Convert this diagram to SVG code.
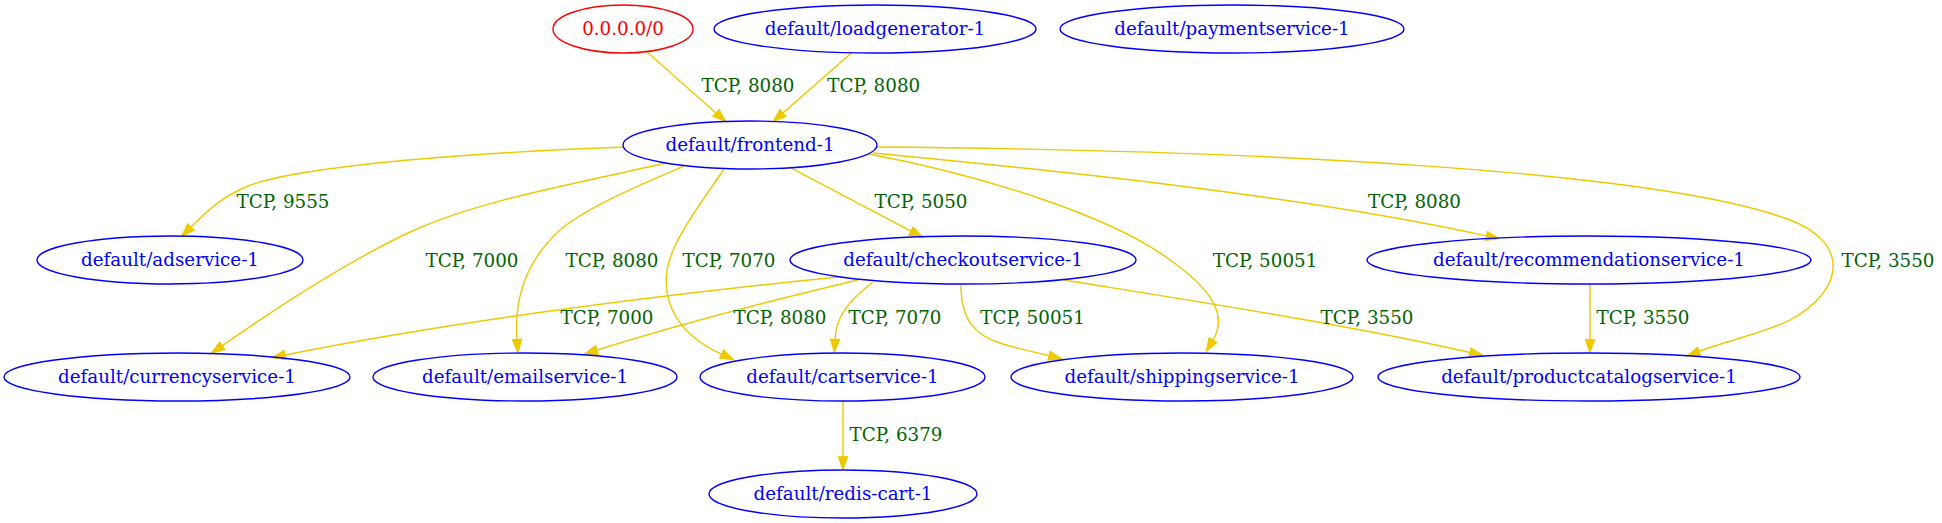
<svg xmlns="http://www.w3.org/2000/svg" width="1942" height="523" viewBox="0 0 1942 523">
<style>
text{font-family:"DejaVu Serif","Liberation Serif",serif;font-size:18.3px;text-anchor:middle}
.n ellipse{fill:none;stroke:#0000ff;stroke-width:1.4}
.n text{fill:#0000ff}
.n.ip ellipse{stroke:#ff0000}
.n.ip text{fill:#ff0000}
.e path{fill:none;stroke:#eec900;stroke-width:1.4;marker-end:url(#ah)}
.e text{fill:#006400}
</style>
<defs>
<marker id="ah" markerUnits="userSpaceOnUse" markerWidth="15" markerHeight="11" refX="0" refY="4.7" orient="auto" overflow="visible">
<path d="M0,0 L13.3,4.7 L0,9.4 z" fill="#eec900" stroke="#eec900" stroke-width="1"/>
</marker>
</defs>
<rect width="1942" height="523" fill="#ffffff"/>
<g id="edges" class="e">
<path d="M647,52 L716,112.9"/>
<text x="748" y="91.7">TCP, 8080</text>
<path d="M851.7,52.7 L783,112.9"/>
<text x="873.7" y="91.7">TCP, 8080</text>
<path d="M624,147 C520,151 310,162 248,186 C224,196 210,208 191,227"/>
<text x="283" y="208.3">TCP, 9555</text>
<path d="M666,163 C570,185 480,200 410,232 C340,265 262,318 222.3,345.6"/>
<text x="472" y="266.7">TCP, 7000</text>
<path d="M684,166 C640,185 585,208 560,230 C525,262 514,300 517,339.4"/>
<text x="612" y="266.7">TCP, 8080</text>
<path d="M724,169 C700,205 672,240 667,270 C662,305 680,335 721.6,354.1"/>
<text x="729" y="266.7">TCP, 7070</text>
<path d="M790,167.3 L910.9,231.1"/>
<text x="921" y="208.3">TCP, 5050</text>
<path d="M869,154 C980,175 1110,215 1170,260 C1220,295 1225,320 1213,340"/>
<text x="1265" y="266.7">TCP, 50051</text>
<path d="M873,153 C1050,170 1300,195 1486.4,235.9"/>
<text x="1414.5" y="208.3">TCP, 8080</text>
<path d="M877,147 C1250,150 1660,170 1790,220 C1850,243 1845,290 1790,320 C1765,333 1725,341 1699.2,351.4"/>
<text x="1888" y="266.7">TCP, 3550</text>
<path d="M838,277 C680,293 470,318 285,355"/>
<text x="607" y="324.3">TCP, 7000</text>
<path d="M858,280 C790,296 700,318 597,350"/>
<text x="780" y="324.3">TCP, 8080</text>
<path d="M873,282 C850,300 836,315 835,339.3"/>
<text x="895" y="324.3">TCP, 7070</text>
<path d="M961,285 C961,320 975,335 1000,343 C1015,348 1030,351 1049,355.7"/>
<text x="1032.5" y="324.3">TCP, 50051</text>
<path d="M1064,280 C1200,302 1350,325 1470,352.5"/>
<text x="1367" y="324.3">TCP, 3550</text>
<path d="M1590,284 L1590,339.4"/>
<text x="1643" y="324.3">TCP, 3550</text>
<path d="M843,401 L843,456.7"/>
<text x="896" y="440.7">TCP, 6379</text>
</g>
<g id="node-ip" class="n ip"><ellipse cx="623" cy="29" rx="70" ry="24"/><text x="623" y="34.5">0.0.0.0/0</text></g>
<g id="node-loadgenerator" class="n"><ellipse cx="875" cy="29" rx="161" ry="24"/><text x="875" y="34.5">default/loadgenerator-1</text></g>
<g id="node-paymentservice" class="n"><ellipse cx="1232" cy="29" rx="172" ry="24"/><text x="1232" y="34.5">default/paymentservice-1</text></g>
<g id="node-frontend" class="n"><ellipse cx="750" cy="145" rx="127" ry="24"/><text x="750" y="150.5">default/frontend-1</text></g>
<g id="node-adservice" class="n"><ellipse cx="170" cy="260" rx="133" ry="24"/><text x="170" y="265.5">default/adservice-1</text></g>
<g id="node-checkoutservice" class="n"><ellipse cx="963" cy="260" rx="173" ry="24"/><text x="963" y="265.5">default/checkoutservice-1</text></g>
<g id="node-recommendationservice" class="n"><ellipse cx="1589" cy="260" rx="222" ry="24"/><text x="1589" y="265.5">default/recommendationservice-1</text></g>
<g id="node-currencyservice" class="n"><ellipse cx="177" cy="377" rx="173" ry="24"/><text x="177" y="382.5">default/currencyservice-1</text></g>
<g id="node-emailservice" class="n"><ellipse cx="525" cy="377" rx="152" ry="24"/><text x="525" y="382.5">default/emailservice-1</text></g>
<g id="node-cartservice" class="n"><ellipse cx="842.5" cy="377" rx="142.5" ry="24"/><text x="842.5" y="382.5">default/cartservice-1</text></g>
<g id="node-shippingservice" class="n"><ellipse cx="1182" cy="377" rx="171" ry="24"/><text x="1182" y="382.5">default/shippingservice-1</text></g>
<g id="node-productcatalogservice" class="n"><ellipse cx="1589" cy="377" rx="211" ry="24"/><text x="1589" y="382.5">default/productcatalogservice-1</text></g>
<g id="node-redis-cart" class="n"><ellipse cx="843" cy="494" rx="134" ry="24"/><text x="843" y="499.5">default/redis-cart-1</text></g>
</svg>
